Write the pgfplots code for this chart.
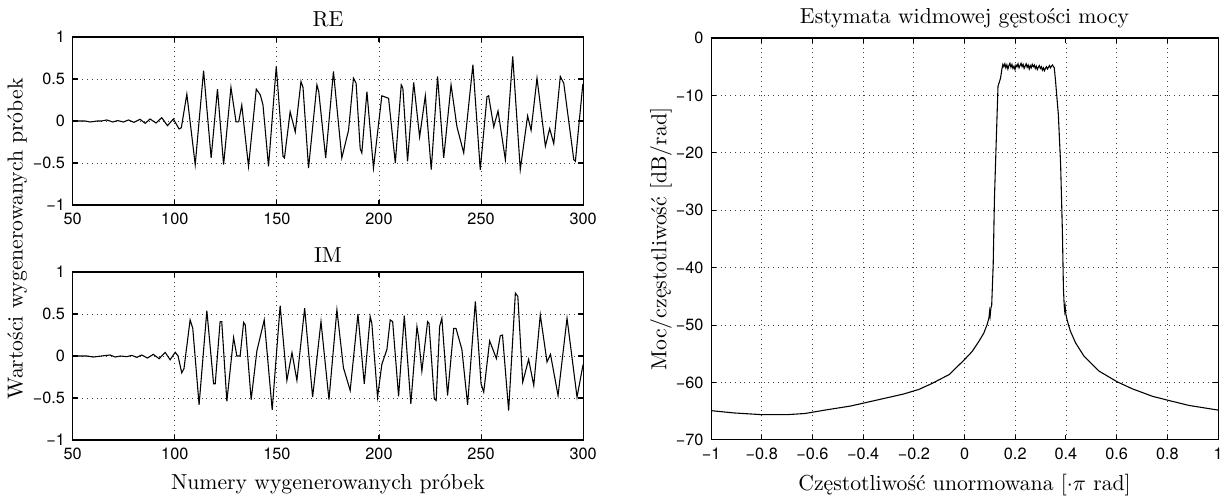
\documentclass[border=0pt]{standalone}
\usepackage{fontspec}
\usepackage{pgfplots}
\pgfplotsset{compat=1.18}
\newfontfamily\helv{TeX Gyre Heros}

\pgfplotsset{
  matlab/.style={
    scale only axis,
    anchor=north west,
    axis line style={line width=0.5pt},
    tick align=inside,
    major tick length=2.3pt,
    tick style={black, line width=0.5pt},
    grid=major,
    major grid style={black!75, line width=0.4pt, dash pattern=on 0.4pt off 1.8pt},
    /pgf/number format/assume math mode=true,
    tick label style={font=\helv\fontsize{7.5}{8}\selectfont},
    title style={font=\fontsize{10}{12}\selectfont, yshift=-5pt},
    label style={font=\fontsize{10}{12}\selectfont},
    cycle list={{black, line width=0.5pt, mark=none}},
  }
}

\begin{document}
\begin{tikzpicture}
\useasboundingbox (0,0) rectangle (564.9pt,-229.9pt);

% ---------- RE ----------
\begin{axis}[matlab,
  at={(33.5pt,-17.05pt)}, width=235.2pt, height=77.4pt,
  xmin=50, xmax=300, ymin=-1, ymax=1,
  xtick={50,100,150,200,250,300},
  xticklabels={50,100,150,200,250,300},
  ytick={-1,-0.5,0,0.5,1},
  yticklabels={−1,−0.5,0,0.5,1},
  title={RE}]
\addplot[black, line width=0.5pt, mark=none] coordinates {
(50,0) (56,0) (58.5,-0.012) (62,0) (64,0) (66.7,0.012) (69.6,-0.012) (72,0.005)
(74.8,-0.012) (77.3,0.012) (80,-0.016) (83,0.02) (85.5,-0.028) (87.9,0.024)
(90.8,-0.024) (93.6,0.04) (96.4,-0.056) (99.3,0.024) (102.1,-0.095)
(103.2,-0.08) (105.9,0.32) (110,-0.52) (114.1,0.60) (117.8,-0.44) (120.9,0.38)
(123.9,-0.52) (127.5,0.40) (130,-0.01) (131.3,-0.01) (132.8,0.19) (136.1,-0.54)
(139.9,0.38) (141.9,0.31) (143.2,0.19) (145.9,-0.54) (149.7,0.65) (153,-0.42)
(153.7,-0.44) (156.5,0.11) (159,-0.13) (161.8,0.47) (162.8,0.40) (165.5,-0.56)
(169.6,0.43) (170.5,0.35) (173.9,-0.44) (177.7,0.59) (181.8,-0.44) (185.1,-0.11)
(187.5,0.51) (188.8,0.45) (190.8,-0.33) (191.6,-0.38) (194.1,0.35) (197.3,-0.56)
(201.4,0.30) (204.7,0.27) (208,-0.50) (210.9,0.43) (211.7,0.39) (214,-0.48)
(217,0.46) (219.9,-0.19) (222.7,0.30) (225.6,-0.58) (228.7,0.53) (231.7,-0.44)
(235.3,0.43) (238.2,-0.07) (241.5,-0.38) (246.0,0.67) (249.6,-0.58) (252.9,0.29)
(253.7,0.30) (256.2,-0.07) (258.3,0.12) (261.9,-0.46) (265.5,0.77) (269.2,-0.58)
(272.8,0.06) (274.5,-0.11) (277.4,0.51) (281.5,-0.30) (283.6,-0.09) (285.6,-0.27)
(288.8,0.53) (290.5,0.45) (295.4,-0.46) (296.2,-0.48) (299.8,0.43) (300,0.44)
};
\end{axis}

% ---------- IM ----------
\begin{axis}[matlab,
  at={(33.5pt,-125.34pt)}, width=235.2pt, height=77.4pt,
  xmin=50, xmax=300, ymin=-1, ymax=1,
  xtick={50,100,150,200,250,300},
  xticklabels={50,100,150,200,250,300},
  ytick={-1,-0.5,0,0.5,1},
  yticklabels={−1,−0.5,0,0.5,1},
  title={IM},
  xlabel={Numery wygenerowanych próbek}]
\addplot[black, line width=0.5pt, mark=none] coordinates {
(50,0) (57,0) (60.1,-0.012) (64,0) (68.3,0.012) (70.8,-0.012) (73.5,0) (76.5,-0.008)
(78.9,0.008) (81.4,-0.016) (83.8,0.012) (86.6,-0.024) (89.5,0.02) (92.3,-0.032)
(95.3,0.043) (97.7,-0.045) (100.2,0.045) (101.6,0.0) (103.4,-0.2) (104.5,-0.15)
(107.5,0.43) (108.8,0.33) (111.9,-0.58) (115.7,0.54) (119,-0.33) (119.8,-0.33)
(122.2,0.41) (123,0.41) (125.5,-0.54) (128.8,0.22) (130.4,0.0) (132,0.0)
(133.7,0.40) (134.5,0.37) (137.4,-0.52) (140.2,0.06) (143.8,0.43) (147.7,-0.64)
(151.6,0.6) (154.9,-0.29) (157.4,0.04) (159.8,-0.29) (163.6,0.57) (167.5,-0.49)
(171.6,0.41) (175.5,-0.52) (179.4,0.55) (182.6,-0.14) (185.9,-0.41) (189.7,0.5)
(192.8,-0.33) (195.7,0.47) (196.5,0.39) (199.3,-0.49) (201.4,-0.1) (203.9,0.08)
(205.5,0.43) (206.7,0.41) (209.6,-0.48) (212.4,0.48) (215.6,-0.57) (218.6,0.35)
(219.4,0.22) (221,-0.18) (223.8,0.41) (224.5,0.39) (227.1,-0.51) (228,-0.53)
(229.7,0.35) (230.8,0.45) (233.6,-0.47) (236.6,0.33) (237.7,0.33) (240.6,0.08)
(243.4,-0.58) (247.2,0.65) (250,-0.33) (251.3,-0.43) (254.2,0.18) (257.5,-0.03)
(259.4,0.24) (260.5,0.25) (263.5,-0.65) (266.8,0.75) (268,0.71) (270.4,-0.31)
(273.3,-0.04) (275.8,-0.35) (279,0.49) (282.3,-0.07) (284,0.02) (287.7,-0.47)
(292.1,0.45) (297,-0.49) (299.5,-0.16) (300,-0.1)
};
\end{axis}

\node[rotate=90, font=\fontsize{10}{12}\selectfont] at (8pt,-110.1pt) {Wartości wygenerowanych próbek};

% ---------- PSD ----------
\begin{axis}[matlab,
  at={(327.63pt,-17.51pt)}, width=233.6pt, height=185.2pt,
  xmin=-1, xmax=1, ymin=-70, ymax=0,
  xtick={-1,-0.8,-0.6,-0.4,-0.2,0,0.2,0.4,0.6,0.8,1},
  xticklabels={−1,−0.8,−0.6,−0.4,−0.2,0,0.2,0.4,0.6,0.8,1},
  ytick={-70,-60,-50,-40,-30,-20,-10,0},
  yticklabels={−70,−60,−50,−40,−30,−20,−10,0},
  title={Estymata widmowej gęstości mocy},
  xlabel={Częstotliwość unormowana [$\cdot\pi$ rad]},
  ylabel={Moc/częstotliwość [dB/rad]},
  ylabel shift=-5pt]
\addplot[black, line width=0.5pt, mark=none] coordinates {
(-1,-64.9) (-0.91,-65.3) (-0.80,-65.6) (-0.70,-65.6) (-0.63,-65.4) (-0.55,-64.8)
(-0.45,-64.1) (-0.37,-63.3) (-0.30,-62.6) (-0.24,-62.0) (-0.18,-61.2) (-0.13,-60.2)
(-0.06,-58.6) (0,-56.0) (0.03,-54.6) (0.057,-52.8) (0.076,-51.4) (0.089,-49.9)
(0.096,-48.8) (0.099,-47.6) (0.101,-48.4) (0.104,-47.0) (0.107,-46.6)
(0.113,-39.5) (0.118,-27.9) (0.125,-18) (0.132,-8.4) (0.142,-7) (0.147,-5.5)
(0.151,-4.6) (0.155,-5.0) (0.159,-4.5) (0.163,-5.2) (0.167,-4.7) (0.171,-5.4)
(0.175,-4.8) (0.179,-4.4) (0.183,-5.1) (0.187,-4.6) (0.191,-5.3) (0.195,-4.9)
(0.199,-5.5) (0.203,-4.7) (0.207,-5.0) (0.211,-4.5) (0.215,-5.2) (0.219,-4.8)
(0.223,-4.4) (0.227,-5.0) (0.231,-4.6) (0.235,-5.3) (0.239,-4.9) (0.243,-4.5)
(0.247,-5.1) (0.251,-4.7) (0.255,-5.4) (0.259,-4.8) (0.263,-5.2) (0.267,-4.6)
(0.271,-5.0) (0.275,-4.7) (0.279,-5.3) (0.283,-4.9) (0.287,-5.5) (0.291,-5.1)
(0.295,-4.8) (0.299,-5.3) (0.303,-5.0) (0.307,-5.6) (0.311,-5.2) (0.315,-5.7)
(0.319,-5.3) (0.323,-5.0) (0.327,-5.4) (0.331,-5.1) (0.335,-4.8) (0.339,-5.2)
(0.343,-4.9) (0.347,-4.7) (0.351,-5.0) (0.354,-5.2)
(0.359,-7.5) (0.370,-13.3) (0.379,-22) (0.386,-33.7) (0.390,-43.5) (0.393,-46.5)
(0.395,-47.5) (0.397,-46.8) (0.400,-48.2) (0.403,-48.8) (0.410,-50.0) (0.418,-51.1)
(0.438,-53.1) (0.471,-55.4) (0.53,-58) (0.603,-59.9) (0.662,-61.1) (0.741,-62.4)
(0.803,-63.1) (0.886,-64.0) (1.0,-64.8)
};
\end{axis}
\end{tikzpicture}
\end{document}
